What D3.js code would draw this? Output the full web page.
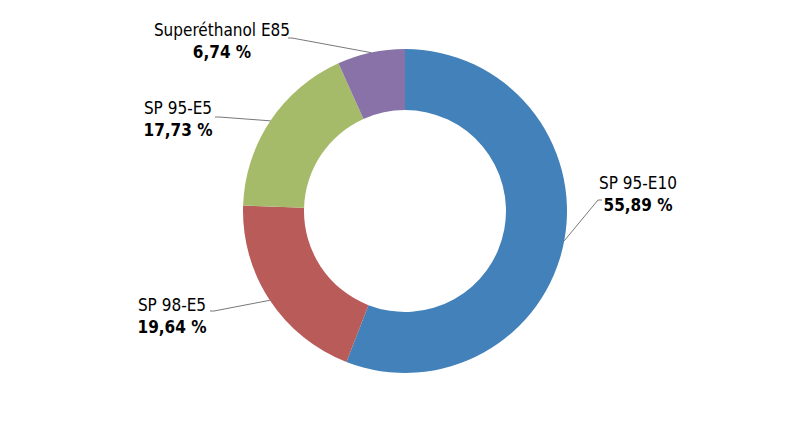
<!DOCTYPE html>
<html><head><meta charset="utf-8">
<script src="https://cdn.jsdelivr.net/npm/d3@7"></script>
<style>body{margin:0;background:#fff}</style></head>
<body><svg id="c" width="810" height="424"></svg>
<script>
const categories=["SP 95-E10","SP 98-E5","SP 95-E5","Superéthanol E85"];
const values=[55.89,19.64,17.73,6.74];
const valueLabels=["55,89 %","19,64 %","17,73 %","6,74 %"];
const colors=["#4281B9","#B95B58","#A5BB69","#8872A8"];
// label text positions (center x, baseline y of first line) and leader end
const labelPos=[[638,189,598,200],[172,311,214,311],[178,114,219,117],[222,36,292,38]];
const svg=d3.select("#c");
const cx=405,cy=211,R=162,r=101;
const pie=d3.pie().sort(null).value(d=>d)(values);
const arc=d3.arc().innerRadius(r).outerRadius(R);
const g=svg.append("g").attr("transform",`translate(${cx},${cy})`);
g.selectAll("path").data(pie).join("path").attr("d",arc).attr("fill",(d,i)=>colors[i]);
const font="'DejaVu Sans Condensed','Liberation Sans Narrow',sans-serif";
pie.forEach((d,i)=>{
  const a=(d.startAngle+d.endAngle)/2;
  const ax=cx+Math.sin(a)*R, ay=cy-Math.cos(a)*R;
  const [lx,ly,ex,ey]=labelPos[i];
  const left=ex<cx;
  svg.append("polyline").attr("points",`${ax},${ay} ${ex},${ey} ${ex+(left?-4:4)},${ey}`)
    .attr("fill","none").attr("stroke","#555").attr("stroke-width",0.8);
  const t=svg.append("text").attr("x",lx).attr("y",ly).attr("text-anchor","middle")
    .attr("font-family",font).attr("font-size",17).attr("fill","#000");
  t.append("tspan").attr("x",lx).text(categories[i]);
  t.append("tspan").attr("x",lx).attr("dy",22).attr("font-weight","bold").text(valueLabels[i]);
});
</script></body></html>
